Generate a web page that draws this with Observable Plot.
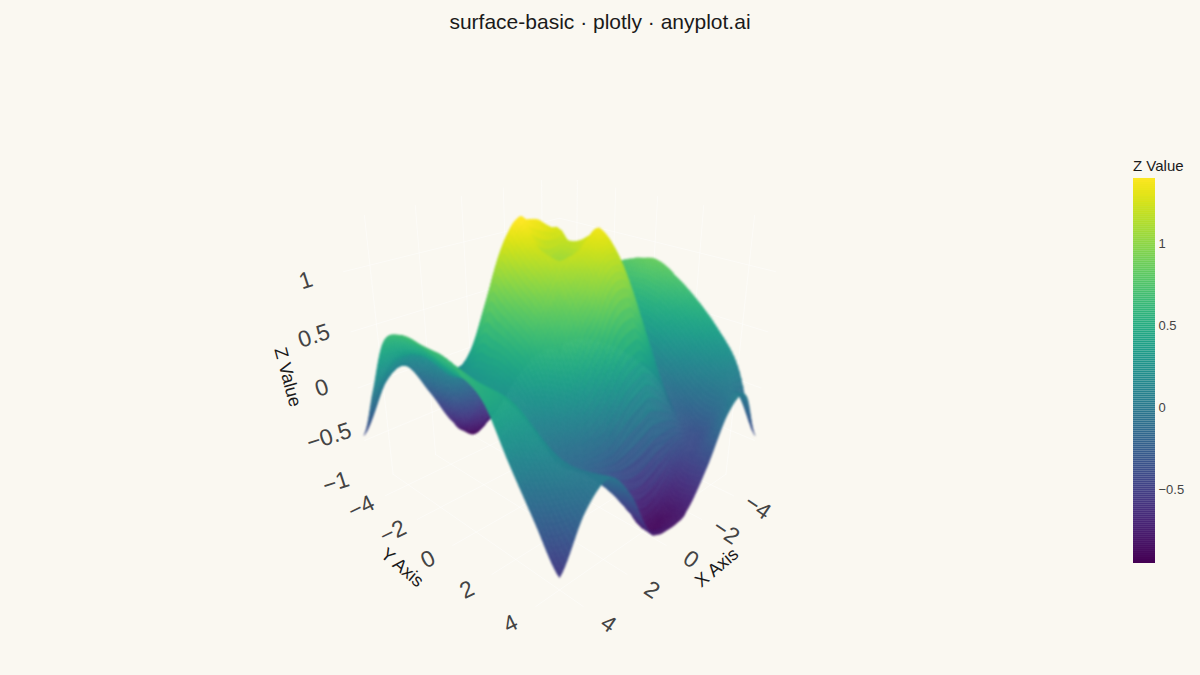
<!DOCTYPE html>
<html><head><meta charset="utf-8">
<style>
html,body{margin:0;padding:0;background:#FAF8F1;}
#wrap{position:relative;width:1200px;height:675px;overflow:hidden;font-family:"Liberation Sans",Arial,sans-serif;}
#wrap svg{position:absolute;left:0;top:0;background:transparent;}
#title{position:absolute;left:0;width:1200px;top:10px;text-align:center;font-size:21px;color:#1a1a1a;}
#cbt{position:absolute;left:1133px;top:157px;font-size:15px;color:#1a1a1a;}
</style>
<script src="https://cdn.jsdelivr.net/npm/d3@7"></script>
<script src="https://cdn.jsdelivr.net/npm/@observablehq/plot@0.6"></script>
</head><body>
<div id="wrap"><div id="title">surface-basic · plotly · anyplot.ai</div><div id="cbt">Z Value</div></div>
<script>
const xValues=[-5,-4,-3,-2,-1,-.5,0,.5,1,2,3,4,5];
const yValues=[-5,-4,-3,-2,-1,-.5,0,.5,1,2,3,4,5];
const zYm5=[-.45,0,.05,-.3,-.75,-.86,-.92,-.84,-.7,-.3,.05,-.05,-.45];
const zYm4=[.2,.1,-.1,-.25,-.45,-.52,-.55,-.52,-.5,-.2,.2,.25,.05];
const zYm3=[.5,.3,0,0,.1,.15,.2,.15,.1,0,.25,.4,.55];
const zYm2=[.7,.45,.1,.3,.7,.85,1.05,1.0,.95,.45,.2,.45,.68];
const zYm1=[.8,.5,.15,.65,1.18,1.28,1.36,1.38,1.38,.95,.3,.42,.68];
const zYm05=[.83,.5,.15,.62,1.15,1.12,1.1,1.18,1.32,.9,.32,.4,.68];
const zY0=[.85,.5,.15,.65,1.18,1.08,1.0,1.05,1.22,.82,.35,.4,.68];
const zY05=[.82,.48,.13,.72,1.24,1.18,1.08,1.12,1.15,.75,.32,.4,.65];
const zY1=[.75,.45,.1,.85,1.3,1.3,1.22,1.15,1.0,.65,.27,.42,.6];
const zY2=[.6,.3,0,.55,1.0,1.08,1.0,.8,.65,.28,.1,.4,.48];
const zY3=[.4,.1,-.2,.05,.3,.28,.22,.1,-.03,-.1,-.1,.25,.12];
const zY4=[.12,0,-.35,-.45,-.7,-.78,-.8,-.72,-.55,-.3,-.05,.05,-.22];
const zY5=[-.45,.02,-.05,-.45,-.75,-.8,-.8,-.78,-.68,-.25,0,-.15,-.55];
const zRows=[zYm5,zYm4,zYm3,zYm2,zYm1,zYm05,zY0,zY05,zY1,zY2,zY3,zY4,zY5];
const xyTicks=[-4,-2,0,2,4];
const zTicks=[-1,-.5,0,.5,1];
const barTicks=[-.5,0,.5,1];
const zMin=-.951,zMax=1.396;

const cam={e:25*Math.PI/180,D:5.2,f:752,cx:559,cy:363,kz:1};
function project(x,y,z){
  const X=x/5,Y=y/5,Z=cam.kz*(z-(zMin+zMax)/2)/((zMax-zMin)/2);
  const a=(Y-X)/Math.SQRT2,b=(X+Y)/Math.SQRT2;
  const c=Math.cos(cam.e),s=Math.sin(cam.e);
  const up=Z*c-b*s,d=cam.D-(b*c+Z*s);
  return {sx:cam.cx+cam.f*a/d,sy:cam.cy-cam.f*up/d,d};
}
function cr(p0,p1,p2,p3,t){return .5*(2*p1+(p2-p0)*t+(2*p0-5*p1+4*p2-p3)*t*t+(3*p1-p0-3*p2+p3)*t*t*t);}
const N=xValues.length-1;
function zAt(u,v){
  const i=Math.min(Math.floor(u),N-1),j=Math.min(Math.floor(v),N-1),tu=u-i,tv=v-j;
  const g=(a,b)=>zRows[Math.max(0,Math.min(N,b))][Math.max(0,Math.min(N,a))];
  const col=k=>cr(g(k,j-1),g(k,j),g(k,j+1),g(k,j+2),tv);
  return cr(col(i-1),col(i),col(i+1),col(i+2),tu);
}
const toIndex=d3.scaleLinear().domain(xValues).range(d3.range(N+1));
const steps=d3.range(0,101).map(k=>-5+k/10);
const verts=steps.map(y=>steps.map(x=>{const z=zAt(toIndex(x),toIndex(y));return {...project(x,y,z),z};}));
const cells=[];
for(let j=0;j<100;j++)for(let i=0;i<100;i++){
  const pts=[verts[j][i],verts[j][i+1],verts[j+1][i+1],verts[j+1][i]];
  cells.push({pts,z:d3.mean(pts,p=>p.z),d:d3.mean(pts,p=>p.d)});
}
cells.sort((p,q)=>q.d-p.d);
const quadRows=[];
cells.forEach((c,id)=>c.pts.forEach(p=>quadRows.push({id,sx:p.sx,sy:p.sy,v:c.z})));

const grid=[];let gid=0;
function gl(p,q){const A=project(...p),B=project(...q);gid++;grid.push({g:gid,sx:A.sx,sy:A.sy},{g:gid,sx:B.sx,sy:B.sy});}
for(const t of xyTicks){gl([t,-5,zMin],[t,5,zMin]);gl([-5,t,zMin],[5,t,zMin]);gl([t,-5,zMin],[t,-5,zMax]);gl([-5,t,zMin],[-5,t,zMax]);}
for(const t of zTicks.slice(1)){gl([-5,-5,t],[5,-5,t]);gl([-5,-5,t],[-5,5,t]);}

const yLab=xyTicks.map(t=>{const p=project(6,t,-.95);return {sx:p.sx,sy:p.sy,t,r:-26};});
const xLab=xyTicks.map(t=>{const p=project(t,6,-.95);return {sx:p.sx,sy:p.sy,t,r:34};});
const zLab=zTicks.map(t=>{const p=project(5.9,-5.9,t*.93);return {sx:p.sx,sy:p.sy,t,r:-18};});
const fmt=t=>String(t).replace("-","−");
const titleAt=(label,r,x,y,z)=>{const p=project(x,y,z);return {label,r,sx:p.sx,sy:p.sy};};
const axisTitles=[titleAt("Y Axis",40,6.5,-.8,-1.07),titleAt("X Axis",-40,-.8,6.5,-1.07),titleAt("Z Value",75,6.7,-6.7,.1)];

const main=Plot.plot({width:1200,height:675,margin:0,
  x:{domain:[0,1200],range:[0,1200],axis:null},
  y:{domain:[0,675],range:[0,675],axis:null},
  color:{type:"linear",scheme:"viridis",domain:[zMin,zMax]},
  style:{background:"transparent",fontFamily:"Liberation Sans"},
  marks:[
    Plot.line(grid,{x:"sx",y:"sy",z:"g",stroke:"#ffffff",strokeWidth:1,strokeOpacity:.45}),
    Plot.line(quadRows,{x:"sx",y:"sy",z:"id",fill:"v",stroke:"v",strokeWidth:.8}),
    Plot.text([...yLab,...xLab,...zLab],{x:"sx",y:"sy",text:d=>fmt(d.t),rotate:"r",fontSize:23,fill:"#444"}),
    Plot.text(axisTitles,{x:"sx",y:"sy",text:"label",rotate:"r",fontSize:18,fill:"#1a1a1a"})
  ]});
const lineGroups=[...main.querySelectorAll("g")].filter(g=>g.getAttribute("aria-label")==="line");
if(lineGroups[1]) lineGroups[1].setAttribute("style","filter:blur(0.8px)");
const levels=d3.range(zMin,zMax,(zMax-zMin)/192);
const bar=Plot.plot({width:1200,height:675,marginLeft:0,marginTop:0,marginBottom:0,marginRight:45,
  x:{domain:[0,1],range:[1133,1155],axis:null},
  y:{domain:[zMin,zMax],range:[563,178],axis:null},
  color:{type:"linear",scheme:"viridis",domain:[zMin,zMax]},
  style:{background:"transparent",fontSize:"13px",color:"#444",fontFamily:"Liberation Sans"},
  marks:[
    Plot.rect(levels,{x1:()=>0,x2:()=>1,y1:d=>d,y2:d=>d+(zMax-zMin)/190,fill:d=>d}),
    Plot.axisY(barTicks,{anchor:"right",tickSize:0,tickPadding:3,tickFormat:fmt})
  ]});
document.getElementById("wrap").append(main,bar);
</script></body></html>
